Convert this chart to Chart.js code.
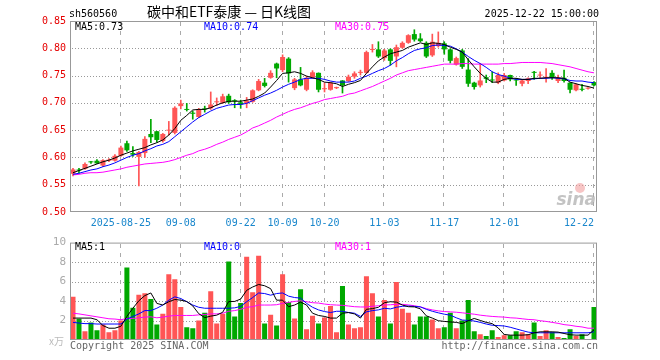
<!DOCTYPE html>
<html>
<head>
<meta charset="utf-8">
<title>sh560560 日K线图</title>
<script src="https://cdn.jsdelivr.net/npm/chart.js@4.4.1/dist/chart.umd.min.js"></script>
<style>
  html, body { margin: 0; padding: 0; background: #fff; }
  #wrap { position: relative; width: 660px; height: 360px; }
  #precos { position: absolute; left: 0; top: 0; z-index: 1; }
  #volumes { position: absolute; left: 0; top: 232px; z-index: 1; }
  .gh { position: absolute; height: 1px; z-index: 0;
        background: repeating-linear-gradient(to right, #999 0px, #999 1px, transparent 1px, transparent 3px); }
  .gv { position: absolute; width: 1px; z-index: 0;
        background: repeating-linear-gradient(to bottom, #aaa 0px, #aaa 4px, transparent 4px, transparent 9px); }
</style>
</head>
<body>
<div id="wrap">
  <canvas id="precos" width="660" height="232"></canvas>
  <canvas id="volumes" width="660" height="128"></canvas>
</div>
<script>
(function () {
  'use strict'
//----------------

var datas = [
  '2025-08-13','2025-08-14','2025-08-15','2025-08-18','2025-08-19','2025-08-20','2025-08-21','2025-08-22',
  '2025-08-25','2025-08-26','2025-08-27','2025-08-28','2025-08-29',
  '2025-09-01','2025-09-02','2025-09-03','2025-09-04','2025-09-05',
  '2025-09-08','2025-09-09','2025-09-10','2025-09-11','2025-09-12',
  '2025-09-15','2025-09-16','2025-09-17','2025-09-18','2025-09-19',
  '2025-09-22','2025-09-23','2025-09-24','2025-09-25','2025-09-26',
  '2025-09-29','2025-09-30',
  '2025-10-09','2025-10-10',
  '2025-10-13','2025-10-14','2025-10-15','2025-10-16','2025-10-17',
  '2025-10-20','2025-10-21','2025-10-22','2025-10-23','2025-10-24',
  '2025-10-27','2025-10-28','2025-10-29','2025-10-30','2025-10-31',
  '2025-11-03','2025-11-04','2025-11-05','2025-11-06','2025-11-07',
  '2025-11-10','2025-11-11','2025-11-12','2025-11-13','2025-11-14',
  '2025-11-17','2025-11-18','2025-11-19','2025-11-20','2025-11-21',
  '2025-11-24','2025-11-25','2025-11-26','2025-11-27','2025-11-28',
  '2025-12-01','2025-12-02','2025-12-03','2025-12-04','2025-12-05',
  '2025-12-08','2025-12-09','2025-12-10','2025-12-11','2025-12-12',
  '2025-12-15','2025-12-16','2025-12-17','2025-12-18','2025-12-19',
  '2025-12-22'
]

// datas marcadas no eixo x
var marcas = ['2025-08-25','2025-09-08','2025-09-22','2025-10-09','2025-10-20','2025-11-03','2025-11-17','2025-12-01','2025-12-22']
var rotulos = ['2025-08-25','09-08','09-22','10-09','10-20','11-03','11-17','12-01','12-22']

var abertura = [
  0.570,0.577,0.579,0.592,0.594,0.585,0.594,0.594,0.603,0.626,
  0.608,0.601,0.608,0.643,0.648,0.630,0.649,0.645,0.694,0.688,
  0.682,0.674,0.689,0.690,0.701,0.700,0.713,0.704,0.701,0.699,
  0.702,0.723,0.737,0.746,0.772,0.760,0.781,0.727,0.743,0.724,
  0.746,0.755,0.725,0.724,0.727,0.741,0.740,0.748,0.755,0.755,
  0.797,0.798,0.782,0.798,0.785,0.801,0.810,0.826,0.818,0.810,
  0.787,0.804,0.809,0.798,0.770,0.796,0.761,0.737,0.732,0.747,
  0.742,0.737,0.741,0.751,0.742,0.735,0.740,0.756,0.750,0.746,
  0.755,0.740,0.746,0.737,0.723,0.725,0.726,0.738
]
var maxima = [
  0.580,0.580,0.590,0.593,0.596,0.596,0.598,0.605,0.621,0.630,
  0.620,0.611,0.638,0.670,0.648,0.644,0.666,0.693,0.705,0.699,
  0.685,0.690,0.694,0.720,0.709,0.716,0.716,0.706,0.705,0.710,
  0.724,0.743,0.745,0.759,0.773,0.788,0.783,0.745,0.765,0.749,
  0.759,0.755,0.737,0.738,0.729,0.741,0.751,0.757,0.760,0.795,
  0.807,0.812,0.798,0.799,0.806,0.812,0.825,0.834,0.827,0.812,
  0.826,0.830,0.812,0.799,0.784,0.798,0.781,0.738,0.772,0.751,
  0.757,0.755,0.754,0.751,0.745,0.742,0.746,0.758,0.757,0.763,
  0.759,0.751,0.760,0.737,0.735,0.734,0.728,0.739
]
var minima = [
  0.566,0.571,0.578,0.589,0.589,0.583,0.592,0.593,0.602,0.611,
  0.602,0.548,0.600,0.627,0.628,0.628,0.641,0.643,0.689,0.685,
  0.670,0.673,0.683,0.688,0.695,0.699,0.699,0.691,0.690,0.691,
  0.701,0.722,0.729,0.745,0.746,0.757,0.738,0.724,0.731,0.722,
  0.745,0.720,0.720,0.723,0.726,0.718,0.739,0.745,0.751,0.754,
  0.793,0.783,0.778,0.769,0.766,0.800,0.809,0.813,0.812,0.783,
  0.785,0.802,0.789,0.773,0.769,0.763,0.730,0.725,0.729,0.737,
  0.737,0.735,0.740,0.740,0.732,0.731,0.735,0.743,0.746,0.738,
  0.743,0.737,0.738,0.718,0.722,0.722,0.725,0.731
]
var fechamento = [
  0.578,0.576,0.588,0.591,0.589,0.595,0.596,0.603,0.618,0.613,
  0.605,0.610,0.634,0.637,0.632,0.643,0.650,0.691,0.699,0.687,
  0.680,0.688,0.688,0.697,0.702,0.712,0.701,0.703,0.697,0.704,
  0.723,0.740,0.731,0.755,0.763,0.784,0.754,0.743,0.732,0.746,
  0.756,0.724,0.726,0.737,0.728,0.732,0.748,0.754,0.756,0.793,
  0.798,0.785,0.796,0.777,0.802,0.810,0.824,0.816,0.813,0.785,
  0.812,0.810,0.798,0.777,0.782,0.766,0.735,0.729,0.741,0.744,
  0.741,0.751,0.751,0.743,0.741,0.741,0.745,0.755,0.751,0.747,
  0.746,0.746,0.740,0.724,0.734,0.724,0.727,0.732
]

var ma5 = [
  0.572,0.576,0.580,0.584,0.588,0.592,0.595,0.599,0.604,0.608,
  0.612,0.615,0.618,0.623,0.627,0.632,0.641,0.653,0.668,0.677,
  0.687,0.688,0.688,0.691,0.696,0.700,0.703,0.703,0.703,0.705,
  0.707,0.712,0.718,0.729,0.741,0.754,0.755,0.757,0.754,0.749,
  0.746,0.743,0.738,0.737,0.735,0.730,0.734,0.737,0.741,0.754,
  0.766,0.777,0.784,0.790,0.793,0.796,0.802,0.806,0.810,0.807,
  0.810,0.809,0.807,0.802,0.798,0.793,0.779,0.766,0.754,0.745,
  0.738,0.738,0.743,0.745,0.745,0.743,0.743,0.745,0.745,0.746,
  0.746,0.746,0.745,0.738,0.735,0.732,0.730,0.727
]
var ma10 = [
  0.569,0.571,0.574,0.577,0.579,0.583,0.586,0.590,0.595,0.600,
  0.604,0.607,0.612,0.616,0.621,0.624,0.629,0.638,0.647,0.656,
  0.665,0.673,0.679,0.685,0.690,0.693,0.696,0.697,0.697,0.699,
  0.704,0.709,0.714,0.718,0.723,0.729,0.734,0.738,0.743,0.745,
  0.745,0.745,0.743,0.740,0.738,0.738,0.738,0.740,0.745,0.749,
  0.754,0.759,0.763,0.769,0.777,0.783,0.790,0.796,0.799,0.801,
  0.805,0.806,0.805,0.804,0.799,0.793,0.785,0.778,0.772,0.765,
  0.757,0.752,0.749,0.745,0.743,0.743,0.743,0.744,0.745,0.745,
  0.746,0.745,0.744,0.741,0.740,0.740,0.738,0.737
]
var ma30 = [
  0.568,0.569,0.571,0.572,0.572,0.573,0.575,0.577,0.579,0.582,
  0.584,0.586,0.588,0.589,0.590,0.591,0.593,0.596,0.600,0.604,
  0.607,0.612,0.615,0.619,0.624,0.628,0.633,0.637,0.641,0.647,
  0.654,0.658,0.663,0.668,0.674,0.679,0.684,0.688,0.691,0.695,
  0.699,0.702,0.706,0.708,0.710,0.712,0.716,0.718,0.722,0.726,
  0.730,0.735,0.740,0.745,0.751,0.755,0.759,0.761,0.763,0.765,
  0.767,0.769,0.771,0.771,0.771,0.772,0.772,0.771,0.771,0.771,
  0.771,0.771,0.772,0.772,0.773,0.774,0.774,0.774,0.774,0.773,
  0.772,0.770,0.768,0.766,0.763,0.760,0.757,0.755
]

// volume em 万
var volume = [
  4.43,2.18,0.9,1.8,1.0,1.58,0.8,1.0,2.0,7.45,
  3.3,4.65,4.8,4.2,1.6,2.7,6.75,6.25,3.4,1.3,
  1.2,2.0,2.8,5.0,1.7,2.7,8.05,2.4,3.8,8.55,
  4.9,8.65,1.7,2.6,1.5,6.75,3.9,2.2,5.2,1.1,
  2.5,1.7,2.3,3.5,0.8,5.55,1.6,1.2,1.3,6.55,
  4.8,2.4,4.1,1.7,5.95,3.2,2.8,1.6,2.4,2.4,
  2.1,1.2,1.3,2.8,1.2,2.0,4.1,0.9,0.6,0.4,
  1.0,0.3,0.5,0.5,0.9,0.8,0.6,1.8,0.4,1.0,
  0.8,0.3,0.2,1.1,0.4,0.6,0.1,3.4
]
var volMa5 = [
  2.25,2.25,2.25,2.25,2.08,1.48,1.21,1.21,1.41,2.42,
  3.26,4.03,4.56,4.83,3.76,3.59,3.93,4.16,4.09,3.95,
  3.5,2.7,2.3,2.45,2.55,2.85,3.95,3.96,4.2,5.1,
  5.44,5.7,5.57,5.27,4.09,4.09,3.42,3.59,3.89,3.59,
  2.75,2.52,2.42,2.25,2.25,2.75,2.82,2.68,2.25,3.15,
  3.22,3.36,3.83,3.93,3.89,3.59,3.42,3.4,3.2,2.48,
  2.25,1.98,1.91,1.85,1.81,1.68,1.98,2.21,2.01,1.81,
  1.68,1.24,0.57,0.5,0.5,0.5,0.54,0.74,0.84,0.84,
  0.84,0.81,0.67,0.54,0.5,0.5,0.5,1.05
]
var volMa10 = [
  1.81,1.74,1.68,1.68,1.64,1.64,1.64,1.64,1.64,2.15,
  2.42,2.68,3.02,3.02,3.26,3.59,4.09,4.43,4.26,3.93,
  3.59,3.36,3.26,3.26,3.26,3.26,3.26,3.3,3.45,3.93,
  4.36,4.83,4.77,4.6,4.77,4.83,4.5,4.36,4.3,3.76,
  3.36,3.09,2.92,2.82,2.95,2.95,2.82,2.75,2.42,2.89,
  3.02,3.09,3.26,3.19,3.36,3.46,3.49,3.45,3.4,3.15,
  2.95,2.79,2.65,2.55,2.28,2.05,2.01,1.95,1.81,1.64,
  1.51,1.48,1.44,1.31,1.14,0.97,0.81,0.74,0.74,0.74,
  0.74,0.74,0.74,0.74,0.74,0.74,0.74,0.84
]
var volMa30 = [
  2.75,2.68,2.58,2.48,2.38,2.28,2.18,2.15,2.08,2.21,
  2.21,2.28,2.35,2.38,2.28,2.35,2.45,2.52,2.52,2.52,
  2.52,2.58,2.62,2.68,2.68,2.75,2.95,3.02,3.15,3.36,
  3.42,3.59,3.59,3.59,3.62,3.76,3.86,3.96,4.03,3.93,
  3.83,3.79,3.69,3.62,3.59,3.56,3.49,3.42,3.39,3.39,
  3.46,3.52,3.59,3.62,3.66,3.66,3.6,3.52,3.4,3.22,
  3.09,2.99,2.92,2.89,2.85,2.79,2.72,2.65,2.55,2.48,
  2.42,2.38,2.35,2.28,2.25,2.18,2.11,2.08,1.98,1.91,
  1.81,1.71,1.58,1.51,1.41,1.34,1.21,1.21
]

var corSobe = '#ff5555'
var corDesce = '#00a800'
var mono = 'DejaVu Sans Mono'

var cores = fechamento.map(function (c, i) { return c >= abertura[i] ? corSobe : corDesce })
var corpos = abertura.map(function (o, i) { return [o, fechamento[i]] })
var pavios = minima.map(function (l, i) { return [l, maxima[i]] })

function linha(dados, cor) {
  return { type: 'line', data: dados, borderColor: cor, borderWidth: 1, pointRadius: 0, tension: 0, fill: false, order: 0 }
}

// eixo x comum aos dois graficos
function eixoX(mostrar) {
  return {
    offset: true,
    grid: { display: false, drawTicks: false },
    border: { display: false },
    ticks: {
      display: mostrar, autoSkip: false, maxRotation: 0, minRotation: 0, padding: 5, align: 'inner',
      color: '#1a87cc', font: { family: mono, size: 10 },
      callback: function (v, i) {
        var k = marcas.indexOf(datas[i])
        return k < 0 ? '' : rotulos[k]
      }
    },
    afterFit: function (s) { s.height = 20 }
  }
}

// grade atras do canvas (o fundo do canvas e transparente)
function grade(chart, topo) {
  var wrap = document.getElementById('wrap')
  var a = chart.chartArea, sx = chart.scales.x, sy = chart.scales.y
  var d, y, x, i
  for (i = 0; i < sy.ticks.length; i++) {
    y = Math.round(sy.getPixelForValue(sy.ticks[i].value))
    if (y <= a.top + 1 || y >= a.bottom - 1) continue
    d = document.createElement('div')
    d.className = 'gh'
    d.style.left = (Math.round(a.left) + 2) + 'px'
    d.style.width = (Math.round(a.right - a.left) - 4) + 'px'
    d.style.top = (topo + y) + 'px'
    wrap.appendChild(d)
  }
  for (i = 0; i < marcas.length; i++) {
    x = Math.round(sx.getPixelForValue(datas.indexOf(marcas[i]))) - 1
    d = document.createElement('div')
    d.className = 'gv'
    d.style.left = x + 'px'
    d.style.top = (topo + Math.round(a.top) + 1) + 'px'
    d.style.height = (Math.round(a.bottom - a.top) - 2) + 'px'
    wrap.appendChild(d)
  }
}

function moldura(c, a) {
  c.strokeStyle = '#999'
  c.lineWidth = 1
  c.strokeRect(a.left + 0.5, a.top + 0.5, a.right - a.left - 1, a.bottom - a.top - 1)
}

var textosPreco = {
  id: 'textosPreco',
  afterDraw: function (chart) {
    var c = chart.ctx, a = chart.chartArea
    c.save()
    // marca d'agua
    c.fillStyle = 'rgba(240,150,150,0.55)'
    c.beginPath(); c.arc(580, 188, 5, 0, Math.PI * 2); c.fill()
    c.fillStyle = 'rgba(170,170,170,0.7)'
    c.font = 'italic bold 17px "DejaVu Sans"'
    c.textAlign = 'right'
    c.fillText('sina', 596, 205)

    moldura(c, a)

    c.textAlign = 'left'
    c.fillStyle = '#000'
    c.font = '10px "' + mono + '"'
    c.fillText('sh560560', 69, 17)
    c.textAlign = 'right'
    c.fillText('2025-12-22 15:00:00', 599, 17)
    c.textAlign = 'center'
    c.font = '14px "Noto Sans CJK SC"'
    c.fillText('碳中和ETF泰康 — 日K线图', 229, 17)

    c.textAlign = 'left'
    c.font = '10px "' + mono + '"'
    c.fillStyle = '#000'; c.fillText('MA5:0.73', 75, 30)
    c.fillStyle = '#0000ff'; c.fillText('MA10:0.74', 204, 30)
    c.fillStyle = '#ff00ff'; c.fillText('MA30:0.75', 335, 30)
    c.restore()
  }
}

var textosVolume = {
  id: 'textosVolume',
  afterDraw: function (chart) {
    var c = chart.ctx, a = chart.chartArea
    c.save()
    moldura(c, a)
    c.textAlign = 'left'
    c.font = '10px "' + mono + '"'
    c.fillStyle = '#000'; c.fillText('MA5:1', 75, 18)
    c.fillStyle = '#0000ff'; c.fillText('MA10:0', 204, 18)
    c.fillStyle = '#ff00ff'; c.fillText('MA30:1', 335, 18)
    c.fillStyle = '#666'
    c.fillText('Copyright 2025 SINA.COM', 70, 117)
    c.textAlign = 'right'
    c.fillText('http://finance.sina.com.cn', 598, 117)
    c.fillStyle = '#bbb'
    c.font = '10px "Noto Sans CJK SC"'
    c.fillText('x万', 64, 113)
    c.restore()
  }
}

// grafico de precos (candles)
const ctx = document.getElementById('precos').getContext('2d');

var graficoPreco = new Chart(ctx, {
  type: 'bar',
  data: {
    labels: datas,
    datasets: [
      linha(ma5, '#000000'),
      linha(ma10, '#0000ff'),
      linha(ma30, '#ff00ff'),
      { label: 'corpo', data: corpos, backgroundColor: cores, grouped: false, barPercentage: 0.84, categoryPercentage: 1, minBarLength: 1, order: 1 },
      { label: 'pavio', data: pavios, backgroundColor: cores, grouped: false, barThickness: 1, order: 2 }
    ]
  },
  options: {
    responsive: false, animation: false, devicePixelRatio: 1, events: [],
    layout: { padding: { top: 21, right: 63, left: 0, bottom: 0 } },
    plugins: { legend: { display: false }, tooltip: { enabled: false } },
    scales: {
      x: eixoX(true),
      y: {
        min: 0.5, max: 0.85,
        grid: { display: false, drawTicks: false },
        border: { display: false },
        ticks: {
          stepSize: 0.05, padding: 4, color: '#e60000', font: { family: mono, size: 10 },
          callback: function (v) { return v.toFixed(2) }
        },
        afterFit: function (s) { s.width = 70 }
      }
    }
  },
  plugins: [textosPreco]
});

// grafico de volume
const ctx2 = document.getElementById('volumes').getContext('2d');

var graficoVolume = new Chart(ctx2, {
  type: 'bar',
  data: {
    labels: datas,
    datasets: [
      linha(volMa5, '#000000'),
      linha(volMa10, '#0000ff'),
      linha(volMa30, '#ff00ff'),
      { label: 'volume', data: volume, backgroundColor: cores, barPercentage: 0.84, categoryPercentage: 1, order: 1 }
    ]
  },
  options: {
    responsive: false, animation: false, devicePixelRatio: 1, events: [],
    layout: { padding: { top: 9, right: 63, left: 0, bottom: 0 } },
    plugins: { legend: { display: false }, tooltip: { enabled: false } },
    scales: {
      x: eixoX(false),
      y: {
        min: 0, max: 10,
        grid: { display: false, drawTicks: false },
        border: { display: false },
        ticks: {
          stepSize: 2, padding: 4, color: '#aaa', font: { family: mono, size: 11 },
          callback: function (v) { return v === 0 ? '' : v }
        },
        afterFit: function (s) { s.width = 70 }
      }
    }
  },
  plugins: [textosVolume]
});

grade(graficoPreco, 0)
grade(graficoVolume, 232)

//----
})()
</script>
</body>
</html>
